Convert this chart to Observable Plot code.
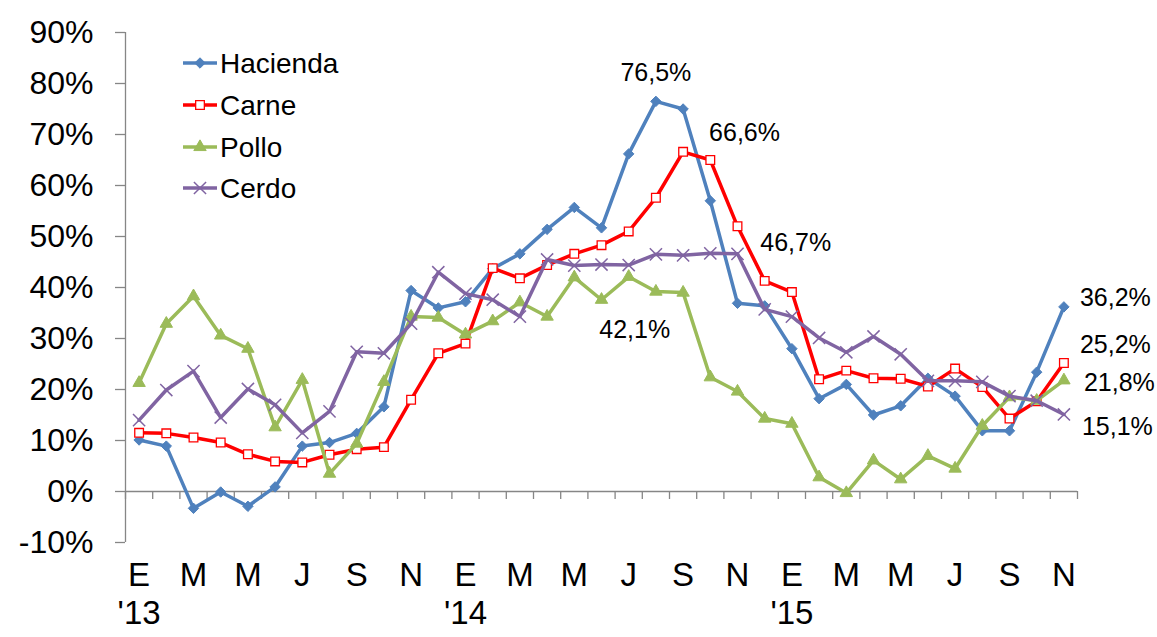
<!DOCTYPE html>
<html>
<head>
<meta charset="utf-8">
<script src="https://cdn.jsdelivr.net/npm/d3@7"></script>
<script src="https://cdn.jsdelivr.net/npm/@observablehq/plot@0.6"></script>
<style>
  html, body { margin: 0; padding: 0; background: #fff; }
  #wrap { position: relative; width: 1157px; height: 637px; }
  #legend { position: absolute; left: 0; top: 0; }
</style>
</head>
<body>
<div id="wrap"></div>
<script>
// ---- data ----
const months = ["2013-01","2013-02","2013-03","2013-04","2013-05","2013-06","2013-07","2013-08","2013-09","2013-10","2013-11","2013-12",
                "2014-01","2014-02","2014-03","2014-04","2014-05","2014-06","2014-07","2014-08","2014-09","2014-10","2014-11","2014-12",
                "2015-01","2015-02","2015-03","2015-04","2015-05","2015-06","2015-07","2015-08","2015-09","2015-10","2015-11"];
const hacienda = [10.1, 8.9, -3.3, -0.1, -2.9, 0.9, 8.9, 9.6, 11.4, 16.6, 39.4, 36.0, 37.2, 43.7, 46.6, 51.4, 55.7, 51.7, 66.2, 76.5, 75.0, 57.0, 36.9, 36.4, 28.0, 18.2, 21.0, 15.0, 16.8, 22.2, 18.7, 11.9, 11.9, 23.4, 36.2];
const carne    = [11.5, 11.4, 10.6, 9.6, 7.3, 5.9, 5.7, 7.2, 8.3, 8.7, 18.0, 27.1, 29.0, 43.8, 41.8, 44.4, 46.6, 48.3, 51.0, 57.6, 66.6, 65.0, 52.0, 41.3, 39.1, 22.0, 23.7, 22.2, 22.1, 20.6, 24.1, 20.5, 14.3, 17.7, 25.2];
const pollo    = [21.3, 32.9, 38.3, 30.6, 28.0, 12.6, 21.9, 3.5, 9.4, 21.5, 34.3, 34.1, 30.8, 33.4, 37.1, 34.3, 42.0, 37.6, 42.1, 39.2, 39.0, 22.4, 19.6, 14.3, 13.3, 2.8, -0.3, 6.1, 2.4, 7.0, 4.5, 12.9, 18.5, 17.8, 21.8];
const cerdo    = [14.0, 19.9, 23.6, 14.5, 20.1, 17.0, 11.5, 15.7, 27.4, 27.1, 32.9, 43.0, 38.8, 37.6, 34.3, 45.5, 44.3, 44.5, 44.4, 46.5, 46.3, 46.7, 46.6, 35.7, 34.3, 30.1, 27.3, 30.4, 26.9, 21.7, 21.7, 21.5, 18.7, 17.8, 15.1];
const seriesNames = ["Hacienda", "Carne", "Pollo", "Cerdo"];
const monthTickLabels = ["E","M","M","J","S","N","E","M","M","J","S","N","E","M","M","J","S","N"];
const yearLabels = ["'13", "'14", "'15"];
const yTicks = [-10, 0, 10, 20, 30, 40, 50, 60, 70, 80, 90];
// annotated points: series, month index
const annotations = [
  {series: "Hacienda", i: 19},
  {series: "Carne", i: 20},
  {series: "Cerdo", i: 21},
  {series: "Pollo", i: 18},
  {series: "Hacienda", i: 34},
  {series: "Carne", i: 34},
  {series: "Pollo", i: 34},
  {series: "Cerdo", i: 34}
];

// ---- styles ----
const values = {Hacienda: hacienda, Carne: carne, Pollo: pollo, Cerdo: cerdo};
const style = {
  Hacienda: {color: "#4f81bd", symbol: "diamond2", r: 4.7, fill: "#4f81bd", stroke: "#4f81bd", sw: 1},
  Carne:    {color: "#ff0000", symbol: "square",   r: 4.9, fill: "#ffffff", stroke: "#ff0000", sw: 1.3},
  Pollo:    {color: "#9bbb59", symbol: "triangle", r: 4.6, fill: "#9bbb59", stroke: "#9bbb59", sw: 1},
  Cerdo:    {color: "#8064a2", symbol: "times",    r: 5.6, fill: "none",    stroke: "#8064a2", sw: 1.5}
};
const annOffsets = [
  {dx: 0, dy: -28, anchor: "middle"},
  {dx: 26, dy: -19, anchor: "start"},
  {dx: 50, dy: -10, anchor: "start"},
  {dx: 6, dy: 53, anchor: "middle"},
  {dx: 16, dy: -9, anchor: "start"},
  {dx: 16, dy: -18, anchor: "start"},
  {dx: 20, dy: 3, anchor: "start"},
  {dx: 18, dy: 13, anchor: "start"}
];
const axisColor = "#868686";
const W = 1157, H = 637, mL = 125, mR = 80, mT = 32, mB = 95;
const pxPerX = (W - mL - mR) / months.length;
const pxPerY = (H - mT - mB) / 100;

const fmt = v => v.toFixed(1).replace(".", ",") + "%";

const marks = [];
// axes
marks.push(Plot.ruleX([-0.5], {y1: -10, y2: 90, stroke: axisColor, strokeWidth: 1.3}));
marks.push(Plot.ruleY(yTicks, {y: d => d, x1: -0.5, x2: -0.5 - 10 / pxPerX, stroke: axisColor, strokeWidth: 1.3}));
marks.push(Plot.ruleY([0], {stroke: axisColor, strokeWidth: 1.3}));
const bounds = d3.range(0, months.length + 1).map(k => k - 0.5);
marks.push(Plot.ruleX(bounds, {x: d => d, y1: 0, y2: -8 / pxPerY, stroke: axisColor, strokeWidth: 1.3}));
marks.push(Plot.text(yTicks, {y: d => d, frameAnchor: "left", dx: -32, textAnchor: "end", text: d => `${d}%`, fontSize: 32, fill: "#000"}));
marks.push(Plot.text(monthTickLabels, {x: (d, k) => k * 2, frameAnchor: "bottom", dy: 43, text: d => d, fontSize: 33, fill: "#000"}));
marks.push(Plot.text(yearLabels, {x: (d, k) => k * 12, frameAnchor: "bottom", dy: 81, text: d => d, fontSize: 33, fill: "#000"}));

// series
for (const name of seriesNames) {
  const s = style[name];
  const data = values[name].map((v, i) => ({i, v, m: months[i]}));
  marks.push(Plot.line(data, {x: "i", y: "v", stroke: s.color, strokeWidth: 3.5, strokeLinejoin: "round"}));
  marks.push(Plot.dot(data, {x: "i", y: "v", symbol: () => s.symbol, r: s.r, fill: s.fill, stroke: s.stroke, strokeWidth: s.sw}));
}

// annotations
annotations.forEach((a, k) => {
  const o = annOffsets[k];
  const v = values[a.series][a.i];
  marks.push(Plot.text([a], {x: d => d.i, y: () => v, text: () => fmt(v), dx: o.dx, dy: o.dy, textAnchor: o.anchor, fontSize: 25, fill: "#000"}));
});

const chart = Plot.plot({
  width: W, height: H,
  marginLeft: mL, marginRight: mR, marginTop: mT, marginBottom: mB,
  x: {domain: [-0.5, months.length - 0.5], axis: null},
  y: {domain: [-10, 90], axis: null},
  style: {fontFamily: "'Liberation Sans', Arial, Helvetica, sans-serif", background: "#fff", overflow: "visible"},
  marks
});
const wrap = document.getElementById("wrap");
wrap.appendChild(chart);

// legend overlay
const lg = d3.select(wrap).append("svg").attr("id", "legend").attr("width", 420).attr("height", 230)
  .style("font-family", "'Liberation Sans', Arial, sans-serif");
const rowY = [63, 105, 147, 188];
seriesNames.forEach((name, k) => {
  const s = style[name];
  const g = lg.append("g").attr("transform", `translate(0,${rowY[k]})`);
  g.append("line").attr("x1", 183).attr("x2", 217).attr("y1", 0).attr("y2", 0)
    .attr("stroke", s.color).attr("stroke-width", 3.5);
  const symMap = {diamond2: d3.symbolDiamond2, square: d3.symbolSquare, triangle: d3.symbolTriangle, times: d3.symbolTimes};
  g.append("path").attr("transform", "translate(200,0)")
    .attr("d", d3.symbol(symMap[s.symbol], Math.PI * s.r * s.r)())
    .attr("fill", s.fill).attr("stroke", s.stroke).attr("stroke-width", s.sw);
  g.append("text").attr("x", 220).attr("y", 0).attr("dy", "0.35em")
    .attr("font-size", 28).attr("fill", "#000").text(name);
});
</script>
</body>
</html>
